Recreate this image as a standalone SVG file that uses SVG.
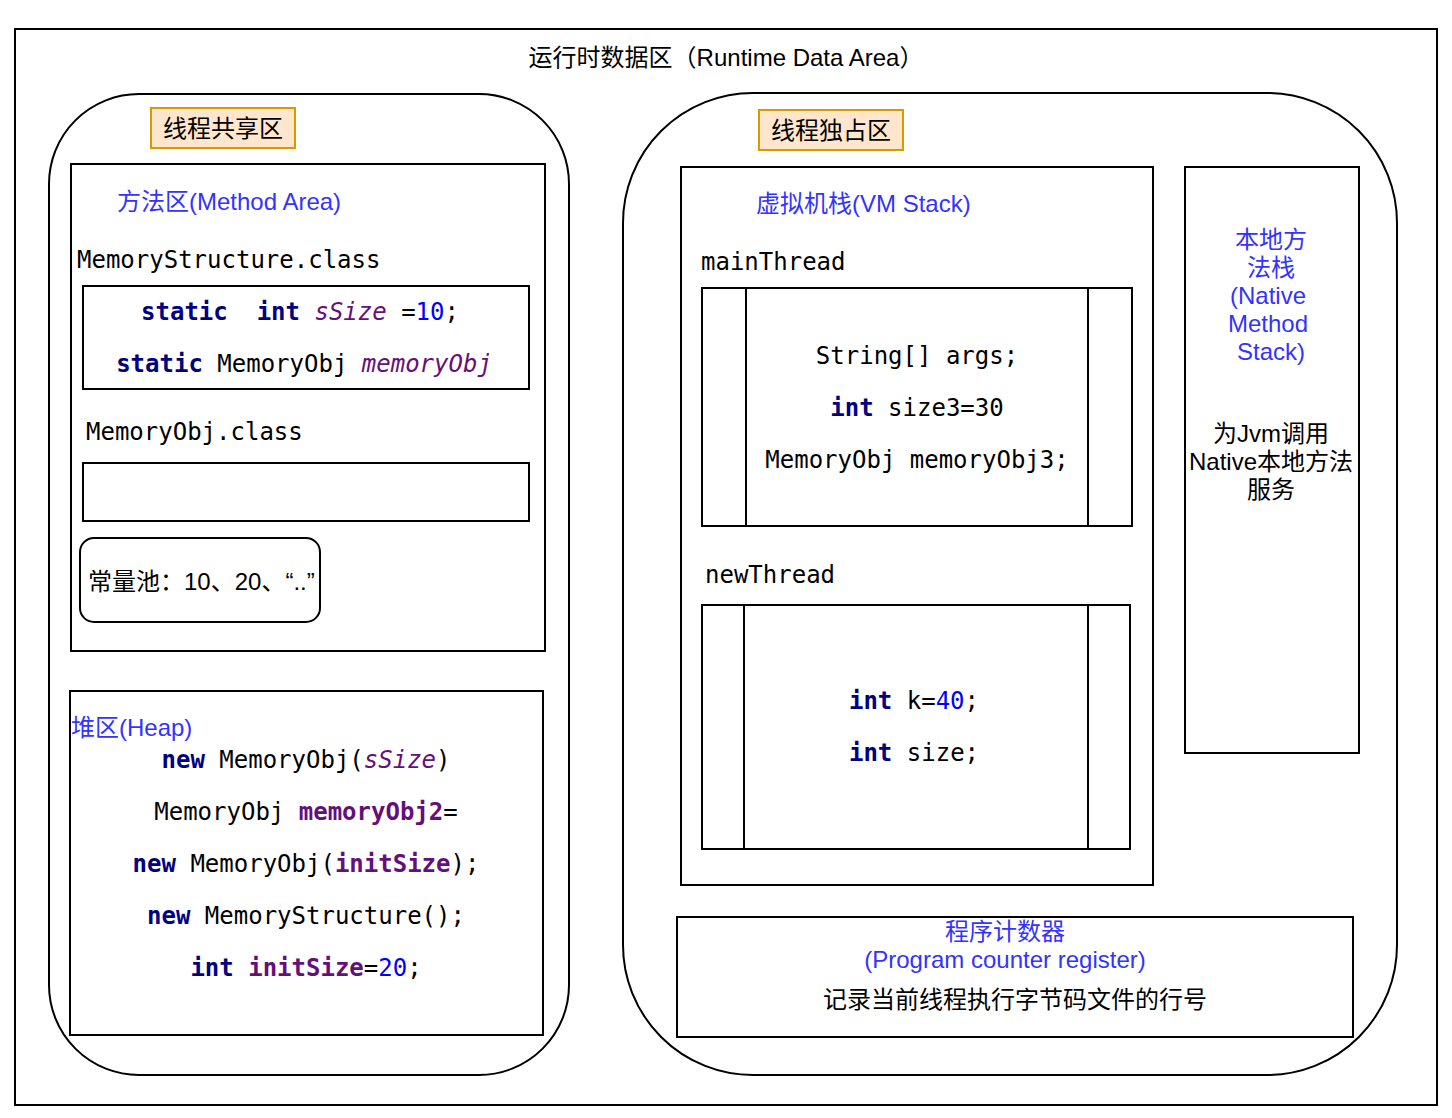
<svg xmlns="http://www.w3.org/2000/svg" width="1452" height="1118" viewBox="0 0 1452 1118">
<style>
.box{fill:#fff;stroke:#000;stroke-width:2}
.tag{fill:#ffe6cc;stroke:#d79b00;stroke-width:2}
.sans{font-family:"Liberation Sans","Noto Sans CJK SC",sans-serif;font-size:24px}
.mono{font-family:"DejaVu Sans Mono","Liberation Mono",monospace;font-size:24px;fill:#000;white-space:pre}
.lbl{fill:#3333ff}
.kw{fill:#000080;font-weight:bold}
.it{fill:#660e7a;font-style:italic}
.fld{fill:#660e7a;font-weight:bold}
.num{fill:#0000ff}
</style>
<rect x="0" y="0" width="1452" height="1118" fill="#fff"/>
<g id="runtime-area">
<rect class="box" x="15" y="29" width="1422" height="1076"/>
<text class="sans" x="726" y="66" text-anchor="middle">运行时数据区（Runtime Data Area）</text>
</g>
<g id="shared-area">
<rect class="box" x="49" y="94" width="520" height="981" rx="90" ry="90"/>
<rect class="tag" x="151" y="108" width="144" height="40"/>
<text class="sans" x="223" y="137" text-anchor="middle">线程共享区</text>
</g>
<g id="method-area">
<rect class="box" x="71" y="164" width="474" height="487"/>
<text class="sans lbl" x="117" y="210">方法区(Method Area)</text>
<text class="mono" x="77" y="268">MemoryStructure.class</text>
<rect class="box" x="83" y="286" width="446" height="103"/>
<text class="mono" x="300" y="320" text-anchor="middle"><tspan class="kw">static</tspan>  <tspan class="kw">int</tspan> <tspan class="it">sSize</tspan> =<tspan class="num">10</tspan>;</text>
<text class="mono" x="304" y="372" text-anchor="middle"><tspan class="kw">static</tspan> MemoryObj <tspan class="it">memoryObj</tspan></text>
<text class="mono" x="86" y="440">MemoryObj.class</text>
<rect class="box" x="83" y="463" width="446" height="58"/>
<rect class="box" x="80" y="538" width="240" height="84" rx="14" ry="14"/>
<text class="sans" x="88" y="590">常量池：10、20、“..”</text>
</g>
<g id="heap">
<rect class="box" x="70" y="691" width="473" height="344"/>
<text class="sans lbl" x="71" y="736">堆区(Heap)</text>
<text class="mono" x="306" y="768" text-anchor="middle"><tspan class="kw">new</tspan> MemoryObj(<tspan class="it">sSize</tspan>)</text>
<text class="mono" x="306" y="820" text-anchor="middle">MemoryObj <tspan class="fld">memoryObj2</tspan>=</text>
<text class="mono" x="306" y="872" text-anchor="middle"><tspan class="kw">new</tspan> MemoryObj(<tspan class="fld">initSize</tspan>);</text>
<text class="mono" x="306" y="924" text-anchor="middle"><tspan class="kw">new</tspan> MemoryStructure();</text>
<text class="mono" x="306" y="976" text-anchor="middle"><tspan class="kw">int</tspan> <tspan class="fld">initSize</tspan>=<tspan class="num">20</tspan>;</text>
</g>
<g id="private-area">
<rect class="box" x="623" y="93" width="774" height="982" rx="130" ry="130"/>
<rect class="tag" x="759" y="110" width="144" height="40"/>
<text class="sans" x="831" y="139" text-anchor="middle">线程独占区</text>
</g>
<g id="vm-stack">
<rect class="box" x="681" y="167" width="472" height="718"/>
<text class="sans lbl" x="756" y="212">虚拟机栈(VM Stack)</text>
<text class="mono" x="701" y="270">mainThread</text>
<rect class="box" x="702" y="288" width="430" height="238"/>
<line class="box" x1="746" y1="288" x2="746" y2="526"/>
<line class="box" x1="1088" y1="288" x2="1088" y2="526"/>
<text class="mono" x="917" y="364" text-anchor="middle">String[] args;</text>
<text class="mono" x="917" y="416" text-anchor="middle"><tspan class="kw">int</tspan> size3=30</text>
<text class="mono" x="917" y="468" text-anchor="middle">MemoryObj memoryObj3;</text>
<text class="mono" x="705" y="583">newThread</text>
<rect class="box" x="702" y="605" width="428" height="244"/>
<line class="box" x1="744" y1="605" x2="744" y2="849"/>
<line class="box" x1="1088" y1="605" x2="1088" y2="849"/>
<text class="mono" x="914" y="709" text-anchor="middle"><tspan class="kw">int</tspan> k=<tspan class="num">40</tspan>;</text>
<text class="mono" x="914" y="761" text-anchor="middle"><tspan class="kw">int</tspan> size;</text>
</g>
<g id="native-stack">
<rect class="box" x="1185" y="167" width="174" height="586"/>
<text class="sans lbl" text-anchor="middle"><tspan x="1271" y="248">本地方</tspan><tspan x="1271" y="276">法栈</tspan><tspan x="1268" y="304">(Native</tspan><tspan x="1268" y="332">Method</tspan><tspan x="1271" y="360">Stack)</tspan></text>
<text class="sans" text-anchor="middle"><tspan x="1271" y="442">为Jvm调用</tspan><tspan x="1271" y="470">Native本地方法</tspan><tspan x="1271" y="498">服务</tspan></text>
</g>
<g id="pc-register">
<rect class="box" x="677" y="917" width="676" height="120"/>
<text class="sans lbl" x="1005" y="940" text-anchor="middle">程序计数器</text>
<text class="sans lbl" x="1005" y="968" text-anchor="middle">(Program counter register)</text>
<text class="sans" x="1015" y="1008" text-anchor="middle">记录当前线程执行字节码文件的行号</text>
</g>
<g id="connectors"/>
</svg>
